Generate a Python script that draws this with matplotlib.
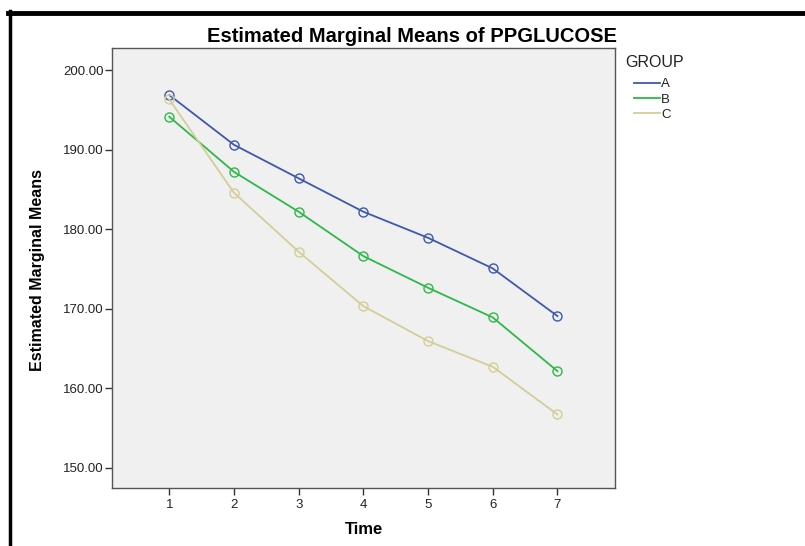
import matplotlib
matplotlib.use("Agg")
import matplotlib.pyplot as plt
from matplotlib.lines import Line2D

# --- data -------------------------------------------------------------------
time_points = [1, 2, 3, 4, 5, 6, 7]
group_names = ["A", "B", "C"]
means_a = [196.86, 190.60, 186.38, 182.18, 178.90, 175.05, 169.06]
means_b = [194.13, 187.20, 182.18, 176.60, 172.62, 168.89, 162.14]
means_c = [196.30, 184.57, 177.15, 170.31, 165.91, 162.68, 156.69]
y_ticks = [150, 160, 170, 180, 190, 200]

COLORS = ["#3e58ac", "#2eb848", "#d3ce97"]
FONT = ["Liberation Sans", "DejaVu Sans"]
INK = "#222222"

plt.rcParams["font.family"] = FONT

fig = plt.figure(figsize=(8.05, 5.46), dpi=100)
ax = fig.add_axes([112 / 805, 1 - 488.3 / 546, 503 / 805, 440.3 / 546])
ax.set_facecolor("#f0f0f0")

for name, vals, col in zip(group_names, [means_a, means_b, means_c], COLORS):
    ax.plot(time_points, vals, color=col, linewidth=1.3, marker="o",
            markersize=6.5, markerfacecolor="none", markeredgecolor=col,
            markeredgewidth=1.0, label=name)

ax.set_xlim(0.115, 7.89)
ax.set_ylim(147.4, 202.77)
ax.set_xticks(time_points)
ax.set_yticks(y_ticks)
ax.set_yticklabels([f"{v:.2f}" for v in y_ticks])
ax.tick_params(direction="out", length=5, width=1, color="#333333",
               labelsize=9.5, labelcolor=INK)
ax.tick_params(axis="x", pad=3)
ax.tick_params(axis="y", pad=1)
for sp in ax.spines.values():
    sp.set_color("#555555")
    sp.set_linewidth(1.0)

ax.set_xlabel("Time", fontsize=12, fontweight="bold")
ax.xaxis.set_label_coords(0.5, 1 - (529 - 48) / 440.3)
ax.xaxis.label.set_va("center")
ax.set_ylabel("Estimated Marginal Means", fontsize=11.5, fontweight="bold")
ax.yaxis.set_label_coords((38 - 112) / 503, 1 - (270 - 48) / 440.3)
ax.yaxis.label.set_va("center")

fig.text(412 / 805, 1 - 37 / 546, "Estimated Marginal Means of PPGLUCOSE",
         ha="center", va="center", fontsize=14.5, fontweight="bold")

# legend: title as text, entries through fig.legend
fig.text(625 / 805, 1 - 62.7 / 546, "GROUP", ha="left", va="center",
         fontsize=11.5, color=INK)
handles = [Line2D([0], [0], color=c, linewidth=1.3) for c in COLORS]
leg = fig.legend(handles, group_names, loc="upper left",
                 bbox_to_anchor=(634 / 805, 1 - 78 / 546), frameon=False,
                 fontsize=9.5, handlelength=1.95, handletextpad=0.1,
                 labelspacing=0.24, borderpad=0, borderaxespad=0)
for txt in leg.get_texts():
    txt.set_color(INK)

# black frame along the top and left edges
fig.add_artist(Line2D([8 / 805, 1], [1 - 12.5 / 546, 1 - 12.5 / 546],
                      color="black", linewidth=3.5, transform=fig.transFigure))
fig.add_artist(Line2D([9.5 / 805, 9.5 / 805], [0, 1 - 11 / 546],
                      color="black", linewidth=2.5, transform=fig.transFigure))

fig.savefig("out.png", dpi=100)
